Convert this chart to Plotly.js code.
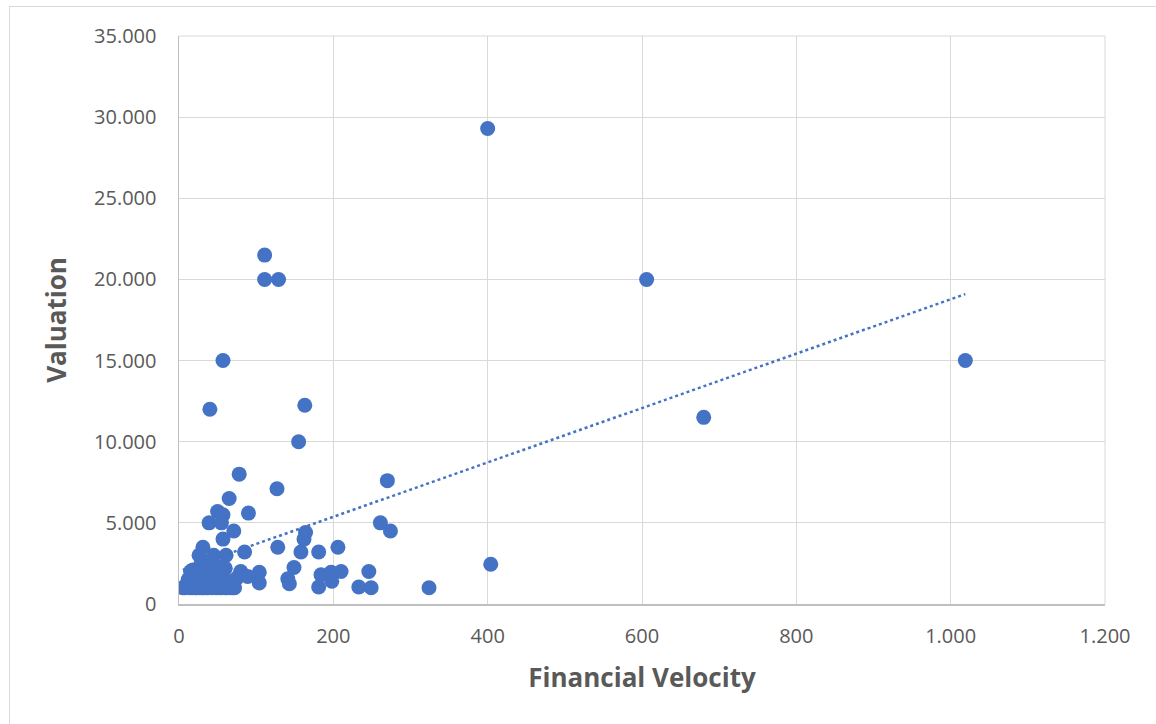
<!DOCTYPE html>
<html>
<head>
<meta charset="utf-8">
<script src="https://cdn.plot.ly/plotly-3.0.1.min.js"></script>
<style>
  html, body { margin:0; padding:0; width:1156px; height:724px; overflow:hidden; background:#fff; }
  #frame { position:absolute; left:9px; top:6px; width:1200px; height:800px; border:1px solid #d9d9d9; box-sizing:border-box; }
  #chart { position:absolute; left:0; top:0; width:1156px; height:724px; }
</style>
</head>
<body>
<div id="frame"></div>
<div id="chart"></div>
<script>
// Financial Velocity (x) vs Valuation (y)
const velocity = [
  400, 606, 1019, 680, 404, 324,
  111, 111, 129, 57, 40, 163, 155, 78, 270, 127, 65,
  50, 57, 90, 39, 55, 261, 274, 71, 57, 164, 162, 128, 206,
  85, 158, 181, 31, 26, 61, 45, 149, 246, 104, 80, 141, 143,
  184, 197, 210, 181, 198, 233, 249, 104, 89, 57,
  5, 8, 10, 12, 14, 15, 17, 18, 20, 21, 23, 24, 26, 27, 29, 30,
  32, 33, 35, 36, 38, 40, 41, 43, 45, 46, 48, 50, 52, 54, 55, 57,
  58, 60, 62, 63, 65, 67, 69, 70, 72, 75, 18, 42, 35, 28, 50, 60
];
const valuation = [
  29300, 20000, 15000, 11500, 2450, 1000,
  21500, 20000, 20000, 15000, 12000, 12250, 10000, 8000, 7600, 7100, 6500,
  5700, 5500, 5600, 5000, 5000, 5000, 4500, 4500, 4000, 4400, 4000, 3500, 3500,
  3200, 3200, 3200, 3500, 3000, 3000, 3000, 2250, 2000, 1950, 2000, 1550, 1250,
  1800, 1950, 2000, 1050, 1400, 1050, 1000, 1300, 1700, 2300,
  1000, 1000, 1200, 1500, 1000, 2000, 1000, 1300, 1700, 1000, 1000, 2000, 1200, 1000, 1500, 1000,
  1000, 1800, 1200, 1000, 1000, 1400, 2000, 1000, 1100, 1600, 1000, 1300, 1000, 1900, 1000, 1200,
  1600, 1000, 1000, 1400, 1100, 1000, 1300, 1000, 1000, 1600, 2100, 2600, 2600, 2400, 2300, 2200
];

// Linear least-squares trendline spanning the data's x range
const n = velocity.length;
let sx = 0, sy = 0, sxx = 0, sxy = 0;
for (let i = 0; i < n; i++) {
  sx += velocity[i]; sy += valuation[i];
  sxx += velocity[i] * velocity[i]; sxy += velocity[i] * valuation[i];
}
const slope = (n * sxy - sx * sy) / (n * sxx - sx * sx);
const intercept = (sy - slope * sx) / n;
const xmin = Math.min(...velocity), xmax = Math.max(...velocity);
const trendX = [xmin, xmax];
const trendY = trendX.map(x => intercept + slope * x);

const blue = '#4472c4';
const txt = '#595959';

const data = [
  { x: velocity, y: valuation, type: 'scatter', mode: 'markers',
    marker: { color: blue, size: 15 }, hoverinfo: 'x+y', showlegend: false },
  { x: trendX, y: trendY, type: 'scatter', mode: 'lines',
    line: { color: blue, width: 2.5, dash: 'dot' }, hoverinfo: 'skip', showlegend: false }
];

const layout = {
  width: 1156, height: 724,
  margin: { l: 179, r: 51, t: 36, b: 120 },
  paper_bgcolor: 'rgba(0,0,0,0)', plot_bgcolor: '#ffffff',
  separators: ',.',
  font: { family: 'Open Sans, sans-serif', color: txt },
  xaxis: {
    range: [0, 1200], dtick: 200, tick0: 0, tickformat: ',d',
    showgrid: true, gridcolor: '#d9d9d9', gridwidth: 1,
    zeroline: false, showline: true, linecolor: '#bfbfbf', linewidth: 1.5,
    ticks: '', ticklabelstandoff: 13,
    tickfont: { size: 20, color: txt },
    title: { text: 'Financial Velocity', font: { size: 26, color: txt, weight: 'bold' }, standoff: 21 }
  },
  yaxis: {
    range: [0, 35000], dtick: 5000, tick0: 0, tickformat: ',d',
    showgrid: true, gridcolor: '#d9d9d9', gridwidth: 1,
    zeroline: false, showline: true, linecolor: '#bfbfbf', linewidth: 1.5,
    ticks: '', ticklabelstandoff: 17,
    tickfont: { size: 20, color: txt },
    title: { text: 'Valuation', font: { size: 26, color: txt, weight: 'bold' }, standoff: 20 }
  },
  shapes: [
    { type: 'line', xref: 'paper', yref: 'paper', x0: 1, x1: 1, y0: 0, y1: 1,
      line: { color: '#d9d9d9', width: 1 } },
    { type: 'line', xref: 'paper', yref: 'paper', x0: 0, x1: 1, y0: 1, y1: 1,
      line: { color: '#d9d9d9', width: 1 } }
  ]
};

Plotly.newPlot('chart', data, layout, { displayModeBar: false, staticPlot: true });
</script>
</body>
</html>
